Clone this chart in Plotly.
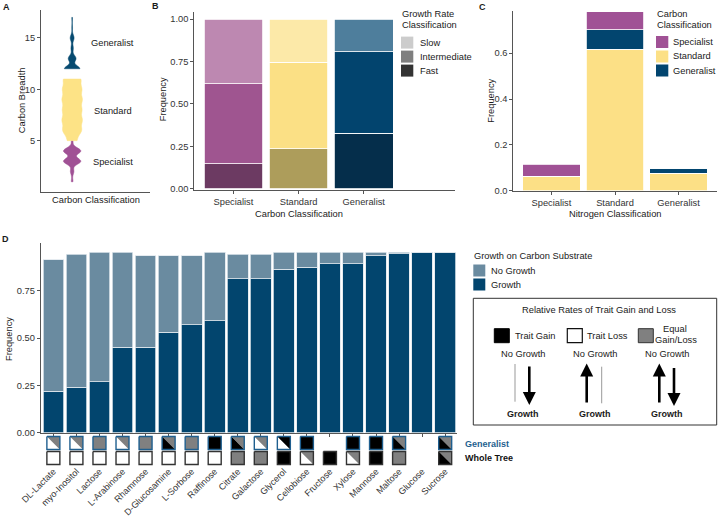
import numpy as np
import plotly.graph_objects as go

W, H = 720, 517
FONT = "Liberation Sans"
TXT = "#1a1a1a"
TICK = "#333333"
AXC = "#555555"
FS = 9.3

# ---------------- Panel A: carbon breadth per carbon class ----------------
breadth_values_specialist = [1, 2, 3, 4, 5]
breadth_counts_specialist = [1, 2, 10, 10, 1]
breadth_values_standard = [5, 6, 7, 8, 9, 10, 11]
breadth_counts_standard = [20, 40, 42, 40, 42, 40, 38]
breadth_values_generalist = [12, 13, 14, 15, 16, 17]
breadth_counts_generalist = [20, 10, 3, 5, 1, 1]

# ---------------- Panel B: growth rate by carbon class ----------------
carbon_classes = ["Specialist", "Standard", "Generalist"]
growth_rates = ["Slow", "Intermediate", "Fast"]
freq_fast = [0.149, 0.237, 0.328]
freq_intermediate = [0.469, 0.510, 0.480]
freq_slow = [0.382, 0.253, 0.192]
color_fast = ["#6c3a62", "#ad9d5b", "#052e4b"]
color_intermediate = ["#9f5590", "#fbe085", "#02446e"]
color_slow = ["#bd88b1", "#fce9a8", "#4e7e9c"]
legend_gray = {"Slow": "#cccccc", "Intermediate": "#7f7f7f", "Fast": "#333333"}

# ---------------- Panel C: nitrogen class composition ----------------
nitrogen_classes = ["Specialist", "Standard", "Generalist"]
c_standard = [0.062, 0.618, 0.076]
c_generalist = [0.002, 0.084, 0.023]
c_specialist = [0.051, 0.080, 0.0]
class_colors = {"Specialist": "#a05195", "Standard": "#fce086", "Generalist": "#02456f"}

# ---------------- Panel D: growth on carbon substrates ----------------
substrates = ["DL-Lactate", "myo-Inositol", "Lactose", "L-Arabinose", "Rhamnose",
              "D-Glucosamine", "L-Sorbose", "Raffinose", "Citrate", "Galactose",
              "Glycerol", "Cellobiose", "Fructose", "Xylose", "Mannose", "Maltose",
              "Glucose", "Sucrose"]
growth = [0.218, 0.240, 0.270, 0.451, 0.451, 0.530, 0.571, 0.592, 0.812, 0.812,
          0.863, 0.874, 0.893, 0.893, 0.933, 0.944, 0.953, 0.953]
no_growth = [0.694, 0.702, 0.683, 0.502, 0.482, 0.403, 0.362, 0.361, 0.130, 0.130,
             0.090, 0.079, 0.060, 0.060, 0.020, 0.009, 0.0, 0.0]
col_growth = "#02456e"
col_no_growth = "#6a8ba0"

# Trait gain/loss icons (lower-left triangle / upper-right triangle); W=loss, B=gain, G=equal
gen_lower = ["W", "W", "G", "W", "G", "B", "G", "B", "B", "W", "W", "B", None, "B", "B", "B", None, "B"]
gen_upper = ["G", "G", "G", "G", "G", "G", "G", "B", "G", "G", "B", "B", None, "B", "B", "G", None, "G"]
tree_lower = ["W", "W", "W", "W", "W", "W", "W", "W", "G", "G", "B", "W", "B", "W", "B", "G", None, "B"]
tree_upper = ["W", "W", "W", "W", "W", "W", "W", "W", "G", "G", "B", "G", "B", "G", "B", "G", None, "G"]
icon_fill = {"W": "#ffffff", "G": "#808080", "B": "#000000"}


def px(x):
    return x / W


def py(y):
    return 1 - y / H


fig = go.Figure()

# ---- Panel A violins ----
for vals, cnts, col, wd in [
    (breadth_values_specialist, breadth_counts_specialist, "#a05195", 0.56),
    (breadth_values_standard, breadth_counts_standard, "#fde386", 0.66),
    (breadth_values_generalist, breadth_counts_generalist, "#064a70", 0.50),
]:
    bw = 0.45 if len(vals) == 7 else 0.3
    fig.add_trace(go.Violin(
        y=np.repeat(vals, cnts), x0=0, xaxis="x", yaxis="y",
        fillcolor=col, line=dict(color=col, width=0.5), width=wd,
        scalemode="width", spanmode="hard", bandwidth=bw, points=False,
        box_visible=False, meanline_visible=False, showlegend=False,
        hoverinfo="skip"))

# ---- Panel B stacked bars ----
for vals, cols in [(freq_fast, color_fast), (freq_intermediate, color_intermediate),
                   (freq_slow, color_slow)]:
    fig.add_trace(go.Bar(x=carbon_classes, y=vals, width=0.9,
                         marker=dict(color=cols, line=dict(color="white", width=0.8)),
                         xaxis="x2", yaxis="y2", showlegend=False))

# ---- Panel C stacked bars ----
for name, vals in [("Standard", c_standard), ("Generalist", c_generalist),
                   ("Specialist", c_specialist)]:
    fig.add_trace(go.Bar(x=nitrogen_classes, y=vals, width=0.9, name=name,
                         marker=dict(color=class_colors[name], line=dict(color="white", width=0.8)),
                         xaxis="x3", yaxis="y3", showlegend=False))

# ---- Panel D stacked bars ----
fig.add_trace(go.Bar(x=substrates, y=growth, width=0.9, name="Growth",
                     marker=dict(color=col_growth, line=dict(color="#dfe6ec", width=0.8)),
                     xaxis="x4", yaxis="y4", showlegend=False))
fig.add_trace(go.Bar(x=substrates, y=no_growth, width=0.9, name="No Growth",
                     marker=dict(color=col_no_growth, line=dict(color="#dfe6ec", width=0.8)),
                     xaxis="x4", yaxis="y4", showlegend=False))

# ---- Icons under panel D (own subplot sharing the substrate positions) ----
HX = 6.5 / 23.06
HY = 6.5
rows = [(24, gen_lower, gen_upper, "#1f5f8f"), (9, tree_lower, tree_upper, "#333333")]
polys = {"W": ([], []), "G": ([], []), "B": ([], [])}
outline_x = {r[3]: [] for r in rows}
outline_y = {r[3]: [] for r in rows}
for cy, lower, upper, bcol in rows:
    for i, (lo, up) in enumerate(zip(lower, upper)):
        if lo is None:
            continue
        l, r, b, t = i - HX, i + HX, cy - HY, cy + HY
        polys[lo][0].extend([l, r, l, l, None])
        polys[lo][1].extend([t, b, b, t, None])
        polys[up][0].extend([l, r, r, l, None])
        polys[up][1].extend([t, t, b, t, None])
        outline_x[bcol].extend([l, r, r, l, l, None])
        outline_y[bcol].extend([t, t, b, b, t, None])
for key, (xs, ys) in polys.items():
    if xs:
        fig.add_trace(go.Scatter(x=xs, y=ys, mode="lines", fill="toself",
                                 fillcolor=icon_fill[key], line=dict(width=0, color=icon_fill[key]),
                                 xaxis="x5", yaxis="y5", showlegend=False, hoverinfo="skip"))
for bcol in outline_x:
    fig.add_trace(go.Scatter(x=outline_x[bcol], y=outline_y[bcol], mode="lines",
                             line=dict(width=1.4, color=bcol),
                             xaxis="x5", yaxis="y5", showlegend=False, hoverinfo="skip"))

axis_common = dict(showgrid=False, zeroline=False, showline=True, linecolor=AXC,
                   linewidth=1, ticks="outside", ticklen=3, tickcolor=AXC, tickwidth=1,
                   automargin=False,
                   tickfont=dict(family=FONT, size=FS, color=TICK))

n = len(substrates)
layout = dict(
    template="none",
    width=W, height=H, autosize=False,
    margin=dict(l=0, r=0, t=0, b=0, pad=0),
    paper_bgcolor="white", plot_bgcolor="white",
    barmode="stack", violinmode="overlay", showlegend=False,
    font=dict(family=FONT, size=FS, color=TXT),
    xaxis=dict(axis_common, domain=[px(41), px(150)], range=[-1, 2.5], type="linear",
               showticklabels=False, ticks="", anchor="y"),
    yaxis=dict(axis_common, domain=[py(191.7), py(10)], range=[0.03, 17.72],
               tickvals=[5, 10, 15], anchor="x"),
    xaxis2=dict(axis_common, domain=[px(194.3), px(455)], range=[-0.6, 3.4],
                type="category", anchor="y2"),
    yaxis2=dict(axis_common, domain=[py(190), py(11.7)], range=[-0.006, 1.043],
                tickvals=[0, 0.25, 0.5, 0.75, 1.0],
                ticktext=["0.00", "0.25", "0.50", "0.75", "1.00"], anchor="x2"),
    xaxis3=dict(axis_common, domain=[px(513.3), px(716.7)], range=[-0.6, 2.6],
                type="category", anchor="y3"),
    yaxis3=dict(axis_common, domain=[py(190.7), py(11.3)], range=[0, 0.783],
                tickvals=[0, 0.2, 0.4, 0.6], ticktext=["0.0", "0.2", "0.4", "0.6"],
                anchor="x3"),
    xaxis4=dict(axis_common, domain=[px(40.7), px(456.7)], range=[-0.55, n - 0.5],
                type="category", showticklabels=False, anchor="y4"),
    yaxis4=dict(axis_common, domain=[py(433.3), py(243.3)], range=[-0.003, 1.0],
                tickvals=[0, 0.25, 0.5, 0.75], ticktext=["0.00", "0.25", "0.50", "0.75"],
                anchor="x4"),
    xaxis5=dict(domain=[px(40.7), px(456.7)], range=[-0.55, n - 0.5], type="linear",
                showgrid=False, zeroline=False, showline=False, ticks="", automargin=False,
                tickvals=list(range(n)), ticktext=substrates, tickangle=-45,
                tickfont=dict(family=FONT, size=9, color=TICK),
                anchor="free", position=py(463.5)),
    yaxis5=dict(domain=[py(467), py(434)], range=[0, 33], visible=False, anchor="x5",
                automargin=False),
)
fig.update_layout(**layout)

ann = []


def text(t, x, y, size=FS, xa="center", ya="middle", bold=False, color=TXT, angle=0,
         xref="paper", yref="paper"):
    if bold:
        t = "<b>" + t + "</b>"
    ann.append(dict(text=t, x=px(x) if xref == "paper" else x,
                    y=py(y) if yref == "paper" else y, xref=xref, yref=yref,
                    xanchor=xa, yanchor=ya, showarrow=False, textangle=angle,
                    font=dict(family=FONT, size=size, color=color)))


# panel letters
text("A", 6, 7, size=9, bold=True)
text("B", 155, 6, size=9, bold=True)
text("C", 483, 7, size=9, bold=True)
text("D", 5, 239, size=9, bold=True)

# axis titles
text("Carbon Breadth", 21.5, 100.7, angle=-90)
text("Carbon Classification", 95.5, 200)
text("Frequency", 163.3, 99, angle=-90)
text("Carbon Classification", 299, 214.3)
text("Frequency", 490.7, 101, angle=-90)
text("Nitrogen Classification", 615, 214.3)
text("Frequency", 8.3, 338.7, angle=-90)

# panel A labels
for lab, yv in [("Generalist", 14.48), ("Standard", 7.92), ("Specialist", 2.89)]:
    text(lab, 1.31, yv, xref="x", yref="y")

shapes = []


def rect(x0, y0, x1, y1, fill, line="rgba(0,0,0,0)", lw=0):
    shapes.append(dict(type="rect", xref="paper", yref="paper", x0=px(x0), x1=px(x1),
                       y0=py(y1), y1=py(y0), fillcolor=fill,
                       line=dict(color=line, width=lw)))


# legend B
text("Growth Rate", 400, 14, xa="left")
text("Classification", 400, 25, xa="left")
for lab, yc in zip(growth_rates, [42.6, 56.6, 70.6]):
    rect(401, yc - 6, 413.3, yc + 6, legend_gray[lab])
    text(lab, 418.3, yc, xa="left")

# legend C
text("Carbon", 655, 14, xa="left")
text("Classification", 655, 24.5, xa="left")
for lab, yc in zip(["Specialist", "Standard", "Generalist"], [42, 56.5, 70.5]):
    rect(656, yc - 6, 668.3, yc + 6, class_colors[lab])
    text(lab, 670.7, yc, xa="left")

# legend D
text("Growth on Carbon Substrate", 471.7, 255.7, xa="left")
for lab, col, yc in [("No Growth", col_no_growth, 270.5), ("Growth", col_growth, 284.5)]:
    rect(473.3, yc - 6, 485.3, yc + 6, col)
    text(lab, 489, yc, xa="left")

# icon row labels
text("Generalist", 463.3, 444, size=9, xa="left", bold=True, color="#1f5f8f")
text("Whole Tree", 463.3, 457.5, size=9, xa="left", bold=True, color="#111111")

# trait gain/loss key
rect(473.3, 298.3, 716.7, 425, "rgba(0,0,0,0)", "#333333", 1)
text("Relative Rates of Trait Gain and Loss", 599.2, 310)
rect(494.3, 328.7, 509.3, 342.7, "#000000", "#000000", 1)
text("Trait Gain", 512.7, 335.5, xa="left")
rect(567.3, 328.7, 582.3, 342.7, "#ffffff", "#111111", 1.2)
text("Trait Loss", 584.5, 336, xa="left")
rect(638.3, 328.7, 653.3, 342.7, "#808080", "#333333", 1)
text("Equal", 675, 329.3)
text("Gain/Loss", 675.5, 340.3)
for xc in [522.5, 594.8, 667.2]:
    text("No Growth", xc, 354)
for xc in [523.3, 595, 667.3]:
    text("Growth", xc, 414.3, size=9, bold=True)

# thin lines (low-rate direction)
for xl, ya, yb in [(515, 364, 401.7), (601.7, 366.7, 403.3)]:
    shapes.append(dict(type="line", xref="paper", yref="paper", x0=px(xl), x1=px(xl),
                       y0=py(ya), y1=py(yb), line=dict(color="#999999", width=1)))


# thick arrows
def arrow(x, y_head, y_tail):
    ann.append(dict(text="", x=px(x), y=py(y_head), xref="paper", yref="paper",
                    ax=0, ay=y_tail - y_head, showarrow=True, arrowhead=2,
                    arrowsize=1, arrowwidth=2.6, arrowcolor="#000000", standoff=0))


arrow(529.3, 405, 365)
arrow(586.7, 363.5, 404)
arrow(659.3, 363.5, 404)
arrow(674, 406, 366.5)

fig.update_layout(annotations=ann, shapes=shapes)
fig.write_html("out.html", config={"displayModeBar": False, "staticPlot": True},
               post_script="document.body.style.margin='0';document.body.style.overflow='hidden';")
